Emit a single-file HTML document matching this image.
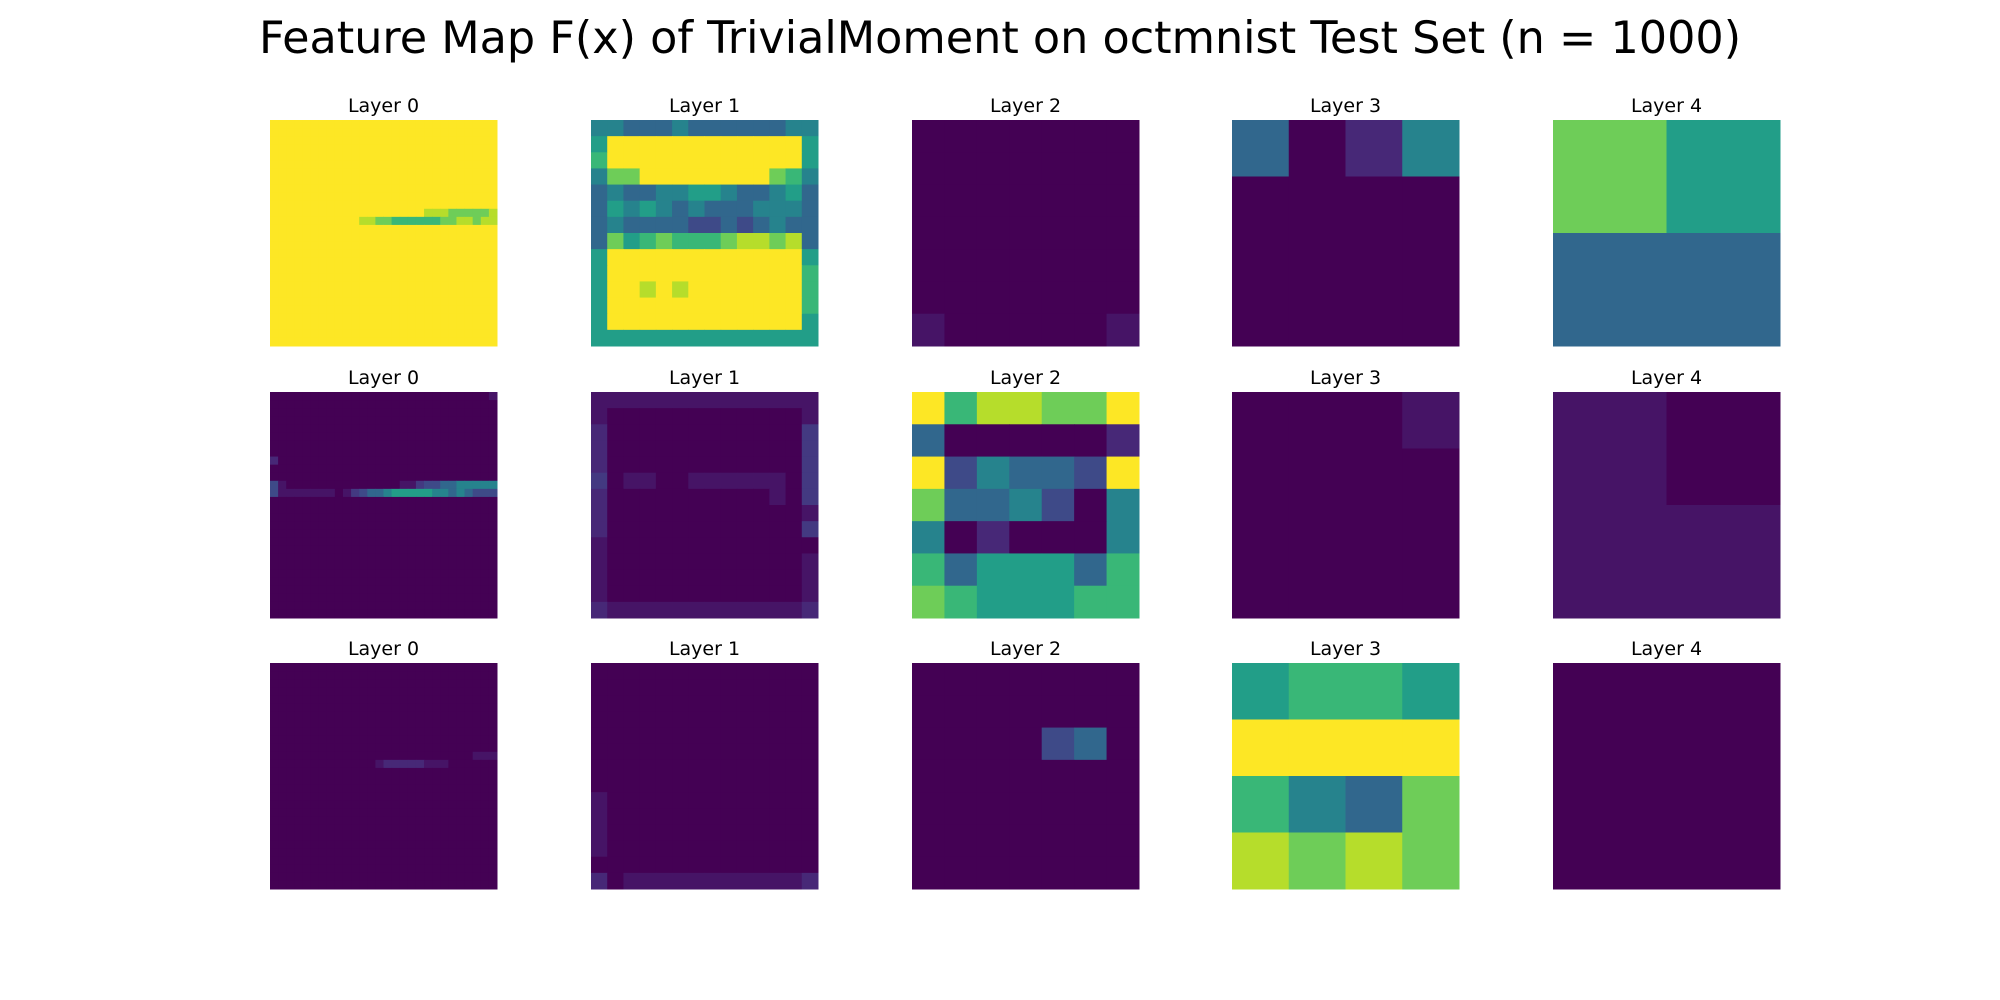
<!DOCTYPE html>
<html><head><meta charset="utf-8"><style>
html,body{margin:0;padding:0;background:#fff;}
svg{display:block;font-family:"DejaVu Sans","Liberation Sans",sans-serif;}
</style></head><body>
<svg id="fig" width="2000" height="1000" viewBox="0 0 2000 1000">
<text x="1000" y="53" text-anchor="middle" font-size="44.5" fill="#000">Feature Map F(x) of TrivialMoment on octmnist Test Set (n = 1000)</text>
<g id="panels"></g>
</svg>
<script>
const layerLabels = ["Layer 0","Layer 1","Layer 2","Layer 3","Layer 4"];
const Z28 = "0000000000000000000000000000";
const N28 = "9999999999999999999999999999";
function fill(n, s){ return Array(n).fill(s); }
const r1l0 = [].concat(fill(11,N28), ["9999999999999999999888777778","9999999999988776666667788788"], fill(15,N28));
const r1l1 = ["44333433333344","59999999999995","69999999999995","47799999999764","34334455433453","35454343334443","34333322323433","37567666788783","59999999999995","59999999999996","59989899999996","59999999999996","59999999999995","55555555555555"];
const r1l2 = ["0000000","0000000","0000000","0000000","0000000","0000000",".00000."];
const r1l3 = ["3014","0000","0000","0000"];
const r1l4 = ["75","33"];
const r2l0 = ["000000000000000000000000000."].concat(fill(7,Z28), ["1000000000000000000000000000", Z28, Z28, "2.00000000000000..:223344444","2.......0.:23345555544343222"], fill(15,Z28));
const r2l1 = ["..............",".000000000000.","1000000000000:","1000000000000:","1000000000000:",":0..00......0:","10000000000.0:","1000000000000.","1000000000000:",".0000000000000.",".000000000000.",".000000000000.",".000000000000.","1............1"];
const r2l2 = ["9688779","3000001","9243329","7334204","4010004","6355536","7655566"];
const r2l3 = ["000.","0000","0000","0000"];
const r2l4 = [".0",".."];
const r3l0 = fill(11,Z28).concat(["0000000000000000000000000...","0000000000000.11111...00000"], fill(15,Z28));
const r3l1 = fill(8,"00000000000000").concat(fill(4,".0000000000000"), ["00000000000000","10............1".slice(0,13)+"1"]);
const r3l2 = ["0000000","0000000","0000230","0000000","0000000","0000000","0000000"];
const r3l3 = ["5665","9999","6437","8787"];
const r3l4 = ["00","00"];
const grids = [[r1l0,r1l1,r1l2,r1l3,r1l4],[r2l0,r2l1,r2l2,r2l3,r2l4],[r3l0,r3l1,r3l2,r3l3,r3l4]];

const vir = ["#440154","#482475","#414487","#355f8d","#2a788e","#21918c","#22a884","#44bf70","#7ad151","#bddf26","#fde725"];
function hex(h){return [1,3,5].map(i=>parseInt(h.substr(i,2),16));}
function viridis(t){
  t=Math.max(0,Math.min(1,t)); const p=t*10, i=Math.min(9,Math.floor(p)), f=p-i;
  const a=hex(vir[i]), b=hex(vir[i+1]);
  return "rgb("+a.map((v,k)=>Math.round(v+(b[k]-v)*f)).join(",")+")";
}
function val(c){ if(c==='.') return 0.5; if(c===':') return 1.5; return parseInt(c); }
const colX=[270,591,912,1232,1553], rowY=[120,392,663], W=227, H=226;
const NS="http://www.w3.org/2000/svg";
const root=document.getElementById("panels");
grids.forEach((row,ri)=>{
  row.forEach((g,ci)=>{
    const grp=document.createElementNS(NS,"g");
    
    
    const n=g.length, cw=W/n, ch=H/n;
    g.forEach((s,y)=>{
      for(let x=0;x<n;x++){
        const r=document.createElementNS(NS,"rect");
        r.setAttribute("x",colX[ci]+x*cw); r.setAttribute("y",rowY[ri]+y*ch);
        r.setAttribute("width",cw+0.5); r.setAttribute("height",ch+0.5);
        r.setAttribute("fill",viridis(val(s[x]||'0')/9));
        
        
        grp.appendChild(r);
      }
    });
    const t=document.createElementNS(NS,"text");
    t.setAttribute("x",colX[ci]+W/2); t.setAttribute("y",rowY[ri]-8);
    t.setAttribute("text-anchor","middle"); t.setAttribute("font-size","19");
    t.textContent=layerLabels[ci];
    
    
    grp.appendChild(t);
    root.appendChild(grp);
  });
});
</script>
</body></html>
